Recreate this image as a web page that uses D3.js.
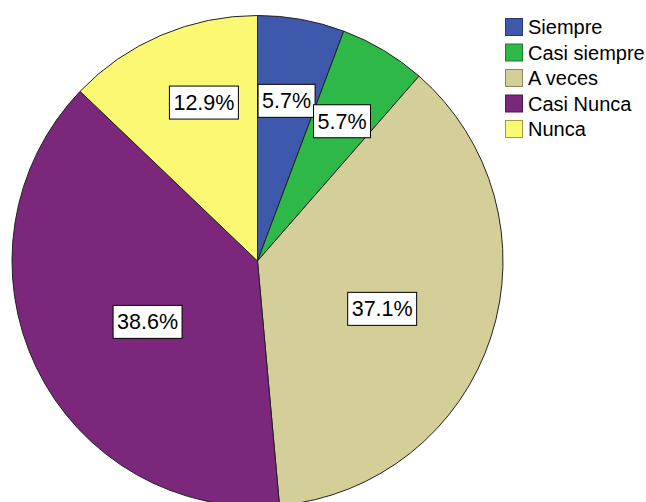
<!DOCTYPE html>
<html>
<head>
<meta charset="utf-8">
<script src="https://cdn.jsdelivr.net/npm/d3@7"></script>
<style>
  html, body { margin: 0; padding: 0; background: #fff; }
  svg { display: block; font-family: "Liberation Sans", Arial, sans-serif; }
</style>
</head>
<body>
<script>
const categories = ["Siempre", "Casi siempre", "A veces", "Casi Nunca", "Nunca"];
const counts = [4, 4, 26, 27, 9];
const percentLabels = ["5.7%", "5.7%", "37.1%", "38.6%", "12.9%"];
const colors = ["#3E58AC", "#2EB848", "#D4CE98", "#7B287C", "#FBF873"];
const borderColors = ["#26386e", "#1c7a2e", "#8c875f", "#4a1a4b", "#9e9b40"];

const W = 646, H = 502;
const cx = 257.5, cy = 261, R = 245.5;

const svg = d3.select("body").append("svg").attr("width", W).attr("height", H);
svg.append("rect").attr("width", W).attr("height", H).attr("fill", "#fff");

const pie = d3.pie().sort(null).value(d => d)(counts);
const arc = d3.arc().innerRadius(0).outerRadius(R);

const g = svg.append("g").attr("transform", `translate(${cx},${cy})`);
g.selectAll("path.slice").data(pie).join("path")
  .attr("class", "slice")
  .attr("d", arc)
  .attr("fill", (d, i) => colors[i])
  .attr("stroke", "#222")
  .attr("stroke-width", 1)
  .attr("stroke-linejoin", "round");

// label placement: sector area centroid, with small layout nudges
const labelNudge = [[0, 0], [1, 0], [2, 8], [4, 6], [9, -12]];
const labels = g.selectAll("g.lab").data(pie).join("g").attr("class", "lab")
  .attr("transform", (d, i) => {
    const a = (d.startAngle + d.endAngle) / 2;
    const half = (d.endAngle - d.startAngle) / 2;
    const r = 2 * R * Math.sin(half) / (3 * half);
    return `translate(${r * Math.sin(a) + labelNudge[i][0]},${-r * Math.cos(a) + labelNudge[i][1]})`;
  });
labels.each(function(d, i) {
  const sel = d3.select(this);
  const rect = sel.append("rect").attr("fill", "#fff").attr("stroke", "#000").attr("stroke-width", 1);
  const t = sel.append("text")
    .attr("text-anchor", "middle")
    .attr("dy", "0.35em")
    .attr("font-size", 21.5)
    .attr("fill", "#000")
    .text(percentLabels[i]);
  const bb = t.node().getBBox();
  rect.attr("x", bb.x - 4).attr("y", -16.5).attr("width", bb.width + 8).attr("height", 33);
});

// legend
const legend = svg.append("g").attr("transform", "translate(505,18)");
const rows = legend.selectAll("g").data(categories).join("g")
  .attr("transform", (d, i) => `translate(0,${i * 25.5})`);
rows.append("rect").attr("x", 0.5).attr("y", 0.5).attr("width", 17).attr("height", 17)
  .attr("fill", (d, i) => colors[i])
  .attr("stroke", (d, i) => borderColors[i]).attr("stroke-width", 1);
rows.append("text").attr("x", 23).attr("y", 16).attr("font-size", 20).attr("fill", "#000")
  .text(d => d);
</script>
</body>
</html>
